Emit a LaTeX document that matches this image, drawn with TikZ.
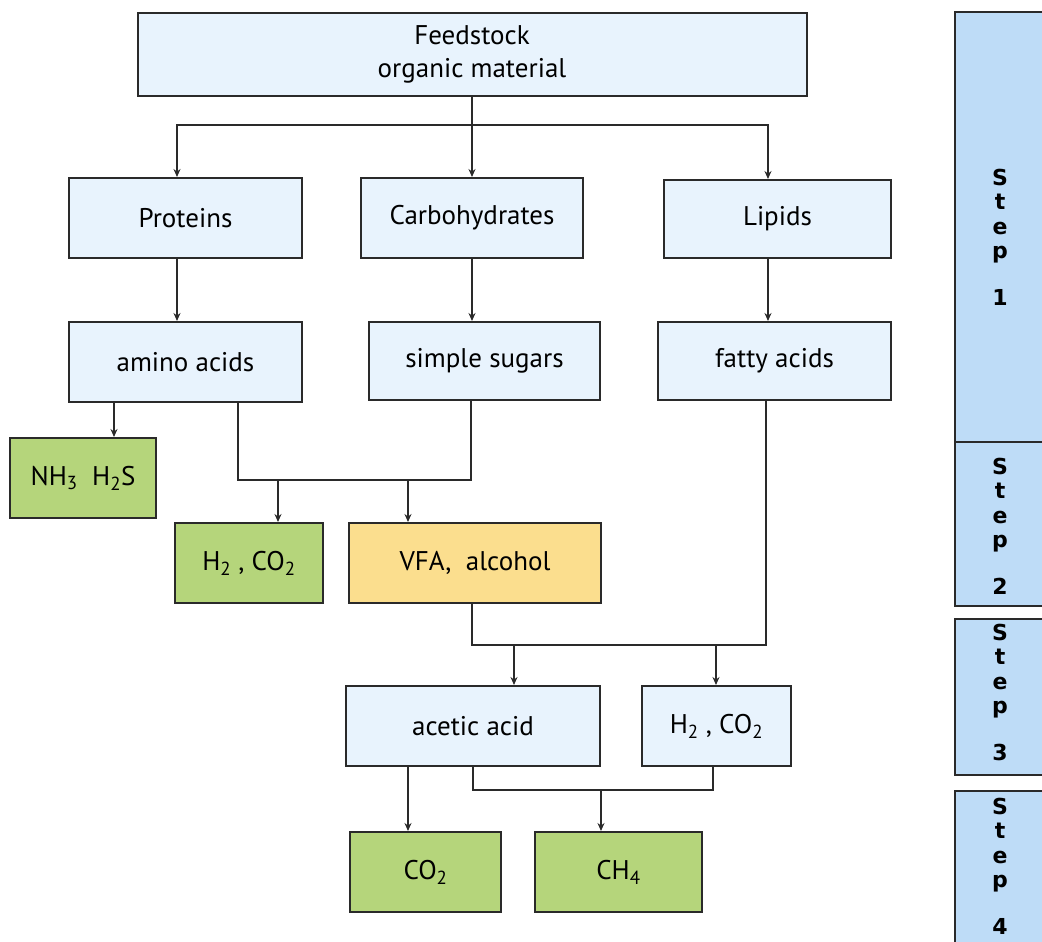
\documentclass[tikz,border=0pt]{standalone}
\usepackage{fontspec}
\setmainfont{PT Sans}
\newfontfamily\stepfont{DejaVu Sans}
\usetikzlibrary{arrows.meta,positioning}
\definecolor{ink}{HTML}{2A2A2A}
\definecolor{pale}{HTML}{E8F3FD}
\definecolor{stepbg}{HTML}{BEDCF7}
\definecolor{gasfill}{HTML}{B5D57B}
\definecolor{vfafill}{HTML}{FBDE8E}
\tikzset{
  font=\fontsize{27}{33}\selectfont,
  >={Stealth[length=8pt,width=7pt]},
  link/.style={line width=1.8pt, draw=ink},
  flow/.style={link, ->},
  box/.style={draw=ink, line width=2pt, fill=pale, align=center,
              minimum height=80pt, inner sep=2pt},
  gas/.style={box, fill=gasfill},
  acid/.style={box, fill=vfafill},
  stage/.style={draw=ink, line width=2pt, fill=stepbg},
  steptxt/.style={font=\stepfont\bfseries\fontsize{22}{24.5}\selectfont, align=center, inner sep=0pt},
}

\begin{document}
\begin{tikzpicture}[x=1pt, y=-1pt]
\useasboundingbox (0,0) rectangle (1042,942);

% --- hydrolysis ---------------------------------------------------------------
\node[box, minimum width=669pt, minimum height=83pt] (feed) at (472,54.5) {Feedstock\\organic material};
\node[box, minimum width=233pt] (prot) at (185.5,218) {Proteins};
\node[box, minimum width=222pt] (carb) at (472,218) {Carbohydrates};
\node[box, minimum width=227pt, minimum height=78pt] (lip) at (777.5,219) {Lipids};
\node[box, minimum width=233pt] (amino) at (185.5,362) {amino acids};
\node[box, minimum width=231pt, minimum height=78pt] (sugar) at (484.5,361) {simple sugars};
\node[box, minimum width=233pt, minimum height=78pt] (fatty) at (774.5,361) {fatty acids};

% --- acidogenesis -------------------------------------------------------------
\node[gas, minimum width=146pt] (nhs) at (83,478) {NH\textsubscript{3}\ \ H\textsubscript{2}S};
\node[gas, minimum width=148pt] (hco) at (249,563) {H\textsubscript{2}\ ,\ CO\textsubscript{2}};
\node[acid, minimum width=252pt] (vfa) at (475,563) {VFA,\ \ alcohol};

% --- acetogenesis and methanogenesis --------------------------------------------
\node[box, minimum width=254pt] (acetic) at (473,726) {acetic acid};
\node[box, minimum width=149pt] (hcob) at (716.5,726) {H\textsubscript{2}\ ,\ CO\textsubscript{2}};
\node[gas, minimum width=151pt] (co) at (425.5,872) {CO\textsubscript{2}};
\node[gas, minimum width=167pt] (ch) at (618.5,872) {CH\textsubscript{4}};

% --- connectors ---------------------------------------------------------------
\coordinate (split) at (472,125);
\draw[link] (feed.south) -- (split);
\draw[flow] (split) -- (carb.north);
\draw[flow] (split) -| ([xshift=-8.5pt]prot.north);
\draw[flow] (split) -| ([xshift=-9.5pt]lip.north);
\draw[flow] ([xshift=-8.5pt]prot.south) -- ([xshift=-8.5pt]prot.south |- amino.north);
\draw[flow] (carb.south) -- (carb.south |- sugar.north);
\draw[flow] ([xshift=-9.5pt]lip.south) -- ([xshift=-9.5pt]lip.south |- fatty.north);

\coordinate (toNH) at (114,402);
\draw[flow] (toNH) -- (toNH |- nhs.north);
\coordinate (mixL) at (238,480);
\coordinate (mixR) at (471,480);
\draw[link] (mixL |- amino.south) -- (mixL) -- (mixR) -- (mixR |- sugar.south);
\coordinate (tapH) at (278,480);
\coordinate (tapV) at (408,480);
\draw[flow] (tapH) -- (tapH |- hco.north);
\draw[flow] (tapV) -- (tapV |- vfa.north);

\coordinate (accL) at (472,645);
\coordinate (accR) at (766,645);
\draw[link] (accL |- vfa.south) -- (accL) -- (accR) -- (accR |- fatty.south);
\coordinate (tapA) at (514,645);
\coordinate (tapB) at (716,645);
\draw[flow] (tapA) -- (tapA |- acetic.north);
\draw[flow] (tapB) -- (tapB |- hcob.north);

\coordinate (toCO) at (408,766);
\draw[flow] (toCO) -- (toCO |- co.north);
\coordinate (metL) at (473,790);
\coordinate (metR) at (713,790);
\draw[link] (metL |- acetic.south) -- (metL) -- (metR) -- (metR |- hcob.south);
\coordinate (tapC) at (601,790);
\draw[flow] (tapC) -- (tapC |- ch.north);

% --- step bars ----------------------------------------------------------------
\draw[stage] (955,12) rectangle (1070,442);
\draw[stage] (955,442) rectangle (1070,606);
\draw[stage] (955,619) rectangle (1070,775);
\draw[stage] (955,791) rectangle (1070,970);
\node[steptxt] (s1) at (1000,237) {S\\t\\e\\p\\[22pt]1};
\node[steptxt] (s2) at (1000,526) {S\\t\\e\\p\\[22pt]2};
\node[steptxt] (s3) at (1000,692) {S\\t\\e\\p\\[22pt]3};
\node[steptxt] (s4) at (1000,866) {S\\t\\e\\p\\[22pt]4};

\end{tikzpicture}
\end{document}
